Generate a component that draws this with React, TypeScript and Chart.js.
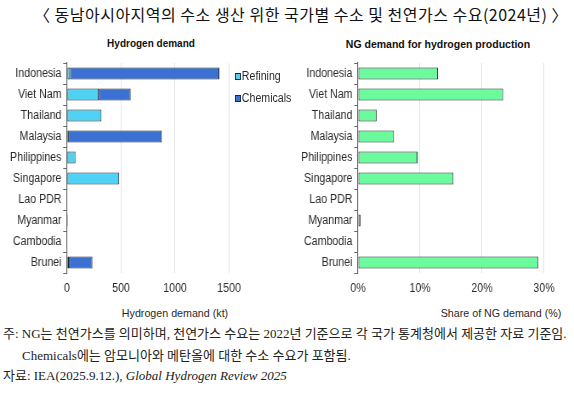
import React, { useEffect, useRef } from 'react';
import { Chart, registerables } from 'chart.js';

Chart.register(...registerables);

const countries = ['Indonesia', 'Viet Nam', 'Thailand', 'Malaysia', 'Philippines', 'Singapore', 'Lao PDR', 'Myanmar', 'Cambodia', 'Brunei'];
const refining = [28, 294, 319, 10, 78, 483, 0, 0, 0, 18];
const chemicals = [1382, 295, 0, 867, 0, 0, 0, 8, 0, 217];
const ngShare = [12.9, 23.4, 3.0, 5.8, 9.6, 15.4, 0, 0.4, 0, 29.1];
const h2Ticks = [0, 500, 1000, 1500];
const ngTicks = [0, 10, 20, 30];

const FONT = "'Liberation Sans', Arial, sans-serif";
const SQ = 0.85; // horizontal squeeze of the chart drawing (condensed look)
const REFINING_COLOR = '#4fd2f4';
const CHEM_COLOR = '#3b71d3';
const NG_COLOR = '#6cfb9c';
const BAR_BORDER = '#1c2633';

function baseScales(tickList: number[], max: number, yWidth: number, fmt: (v: number) => string) {
  return {
    x: {
      type: 'linear' as const,
      stacked: true,
      min: 0,
      max,
      afterBuildTicks: (s: any) => {
        s.ticks = tickList.map((v) => ({ value: v }));
      },
      afterFit: (s: any) => {
        s.height = 27;
      },
      ticks: {
        font: { family: FONT, size: 12.5 },
        color: '#2a2a2a',
        padding: 8,
        callback: (v: any) => fmt(Number(v)),
      },
      grid: {
        color: (ctx: any) => (ctx.tick && ctx.tick.value === 0 ? 'rgba(0,0,0,0)' : '#e4e4e4'),
        drawTicks: false,
        lineWidth: 1,
      },
      border: { display: false },
    },
    y: {
      type: 'category' as const,
      stacked: true,
      afterFit: (s: any) => {
        s.width = yWidth;
      },
      ticks: {
        font: { family: FONT, size: 12.5 },
        color: '#2a2a2a',
        padding: 2,
        autoSkip: false,
      },
      grid: {
        drawOnChartArea: false,
        offset: true,
        tickLength: 4.5,
        color: '#666',
        lineWidth: 1,
      },
      border: { display: true, color: '#666', width: 1.15 },
    },
  };
}

function H2Chart() {
  const ref = useRef<HTMLCanvasElement | null>(null);
  useEffect(() => {
    if (!ref.current) return;
    const chart = new Chart(ref.current, {
      type: 'bar',
      data: {
        labels: countries,
        datasets: [
          {
            label: 'Refining',
            data: refining.map((v) => (v === 0 ? null : v)),
            backgroundColor: REFINING_COLOR,
            borderColor: BAR_BORDER,
            borderWidth: 1,
            borderSkipped: false,
            barPercentage: 0.56,
            categoryPercentage: 1,
          },
          {
            label: 'Chemicals',
            data: chemicals.map((v) => (v === 0 ? null : v)),
            backgroundColor: CHEM_COLOR,
            borderColor: BAR_BORDER,
            borderWidth: 1,
            borderSkipped: false,
            barPercentage: 0.56,
            categoryPercentage: 1,
          },
        ],
      },
      options: {
        indexAxis: 'y',
        animation: false,
        responsive: true,
        maintainAspectRatio: false,
        layout: { padding: { left: 0, right: 61 / SQ, top: 13, bottom: 0 } },
        plugins: { legend: { display: false }, tooltip: { enabled: false }, title: { display: false } },
        scales: baseScales(h2Ticks, 1500, 67 / SQ, (v) => String(v)) as any,
      },
    });
    return () => chart.destroy();
  }, []);
  return <canvas ref={ref} />;
}

function NGChart() {
  const ref = useRef<HTMLCanvasElement | null>(null);
  useEffect(() => {
    if (!ref.current) return;
    const chart = new Chart(ref.current, {
      type: 'bar',
      data: {
        labels: countries,
        datasets: [
          {
            label: 'Share of NG demand',
            data: ngShare.map((v) => (v === 0 ? null : v)),
            backgroundColor: NG_COLOR,
            borderColor: BAR_BORDER,
            borderWidth: 1,
            borderSkipped: false,
            barPercentage: 0.56,
            categoryPercentage: 1,
          },
        ],
      },
      options: {
        indexAxis: 'y',
        animation: false,
        responsive: true,
        maintainAspectRatio: false,
        layout: { padding: { left: 0, right: 30 / SQ, top: 13, bottom: 0 } },
        plugins: { legend: { display: false }, tooltip: { enabled: false }, title: { display: false } },
        scales: baseScales(ngTicks, 30, 68 / SQ, (v) => v + '%') as any,
      },
    });
    return () => chart.destroy();
  }, []);
  return <canvas ref={ref} />;
}

const abs = (l: number, t: number, extra: React.CSSProperties = {}): React.CSSProperties => ({
  position: 'absolute',
  left: l,
  top: t,
  whiteSpace: 'nowrap',
  ...extra,
});

export default function App() {
  const legendItem = (color: string, label: string, top: number) => (
    <div style={abs(235, top, { display: 'flex', alignItems: 'center', fontFamily: FONT, fontSize: 12.5, color: '#2a2a2a', lineHeight: '14px', transform: `scaleX(${SQ})`, transformOrigin: 'left center' })}>
      <span style={{ display: 'inline-block', width: 5, height: 5, background: color, border: `1px solid ${BAR_BORDER}`, marginRight: 1 }} />
      <span>{label}</span>
    </div>
  );
  const serif = "'Liberation Serif', 'Noto Sans CJK KR', serif";
  return (
    <div style={{ position: 'fixed', left: 0, top: 0, width: 574, height: 394, background: '#fff', overflow: 'hidden' }}>
      <div style={abs(7, 4, { width: 588, textAlign: 'center', fontFamily: "'Noto Sans CJK KR', sans-serif", fontSize: 16, letterSpacing: 0.5, lineHeight: '20px', color: '#111' })}>
        〈 동남아시아지역의 수소 생산 위한 국가별 수소 및 천연가스 수요(2024년) 〉
      </div>
      <div style={abs(51, 38, { width: 200, textAlign: 'center', fontFamily: FONT, fontWeight: 'bold', fontSize: 10, lineHeight: '12px', color: '#111' })}>
        Hydrogen demand
      </div>
      <div style={abs(338, 38, { width: 200, textAlign: 'center', fontFamily: FONT, fontWeight: 'bold', fontSize: 10.5, lineHeight: '12px', color: '#111' })}>
        NG demand for hydrogen production
      </div>
      <div style={abs(0, 50, { width: 290 / SQ, height: 250, transform: `scaleX(${SQ})`, transformOrigin: 'left top' })}>
        <H2Chart />
      </div>
      <div style={abs(290, 50, { width: 284 / SQ, height: 250, transform: `scaleX(${SQ})`, transformOrigin: 'left top' })}>
        <NGChart />
      </div>
      {legendItem(REFINING_COLOR, 'Refining', 69)}
      {legendItem(CHEM_COLOR, 'Chemicals', 91)}
      <div style={abs(75, 306, { width: 200, textAlign: 'center', fontFamily: FONT, fontSize: 10.7, lineHeight: '14px', color: '#2a2a2a' })}>
        Hydrogen demand (kt)
      </div>
      <div style={abs(401, 306, { width: 200, textAlign: 'center', fontFamily: FONT, fontSize: 10.7, lineHeight: '14px', color: '#2a2a2a' })}>
        Share of NG demand (%)
      </div>
      <div style={abs(3, 325, { fontFamily: serif, fontSize: 13, lineHeight: '18px', color: '#222' })}>
        주: NG는 천연가스를 의미하며, 천연가스 수요는 2022년 기준으로 각 국가 통계청에서 제공한 자료 기준임.
      </div>
      <div style={abs(22, 347, { fontFamily: serif, fontSize: 13, lineHeight: '18px', color: '#222' })}>
        Chemicals에는 암모니아와 메탄올에 대한 수소 수요가 포함됨.
      </div>
      <div style={abs(3, 367, { fontFamily: serif, fontSize: 13, lineHeight: '18px', color: '#222' })}>
        자료: IEA(2025.9.12.), <i>Global Hydrogen Review 2025</i>
      </div>
    </div>
  );
}
